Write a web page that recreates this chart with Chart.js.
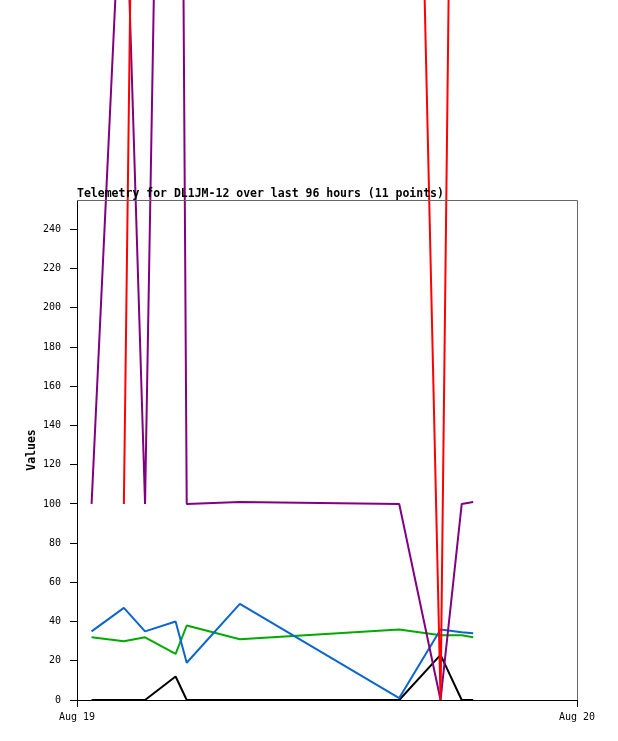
<!DOCTYPE html>
<html>
<head>
<meta charset="utf-8">
<script src="https://cdn.jsdelivr.net/npm/chart.js@4.4.1/dist/chart.umd.min.js"></script>
<style>
  html, body { margin: 0; padding: 0; background: #fff; }
  #wrap { width: 618px; height: 741px; }
</style>
</head>
<body>
<div id="wrap"><canvas id="telemetryChart" width="618" height="741"></canvas></div>
<script>
// sample times on Aug 19 (HH:MM)
const times = ['00:42', '02:15', '03:16', '04:44', '05:16', '07:49', '15:28', '17:27', '18:28', '19:01'];

// telemetry channels
const redValues = [null, 100, 960, 960, 960, 960, 930, 0, 940, 950];
const purpleValues = [100, 450, 100, 1000, 100, 101, 100, 0, 100, 101];
const blueValues = [35, 47, 35, 40, 19, 49, 1, 36, 34.5, 34];
const greenValues = [32, 30, 32, 23.5, 38, 31, 36, 33, 33, 32];
const blackValues = [0, 0, 0, 12, 0, 0, 0, 23, 0, 0];

// x axis: hours since Aug 19 00:00
const xTicks = [0, 24];
const xTickLabels = ['Aug 19', 'Aug 20'];
const yTicks = [0, 20, 40, 60, 80, 100, 120, 140, 160, 180, 200, 220, 240];
const yMax = 255;

const titleText = 'Telemetry for DL1JM-12 over last 96 hours (11 points)';
const yTitle = 'Values';

function toHours(t) {
    const p = t.split(':');
    return Number(p[0]) + Number(p[1]) / 60;
}

function series(values) {
    return values.map((v, i) => ({ x: toHours(times[i]), y: v }));
}

function lineSet(values, color) {
    return {
        data: series(values),
        borderColor: color,
        backgroundColor: color,
        borderWidth: 2,
        borderJoinStyle: 'bevel',
        pointRadius: 0,
        tension: 0,
        fill: false,
        clip: false,
        spanGaps: false
    };
}

// title, y title and the grey top/right frame
const decorations = {
    id: 'decorations',
    afterDraw(chart) {
        const c = chart.ctx;
        const a = chart.chartArea;
        c.save();
        c.strokeStyle = '#666';
        c.lineWidth = 1;
        c.beginPath();
        c.moveTo(a.left, a.top + 0.5);
        c.lineTo(a.right + 0.5, a.top + 0.5);
        c.lineTo(a.right + 0.5, a.bottom);
        c.stroke();

        c.fillStyle = '#000';
        c.font = 'bold 11.5px "DejaVu Sans Mono"';
        c.textAlign = 'left';
        c.textBaseline = 'alphabetic';
        c.fillText(titleText, a.left, 196.5);

        c.translate(35, (a.top + a.bottom) / 2);
        c.rotate(-Math.PI / 2);
        c.textAlign = 'center';
        c.fillText(yTitle, 0, 0);
        c.restore();
    }
};

document.addEventListener('DOMContentLoaded', function () {
    const ctx = document.getElementById('telemetryChart');
    new Chart(ctx, {
        type: 'line',
        data: {
            datasets: [
                lineSet(redValues, '#ff0000'),
                lineSet(purpleValues, '#800080'),
                lineSet(blueValues, '#0a66cc'),
                lineSet(greenValues, '#00aa00'),
                lineSet(blackValues, '#000000')
            ]
        },
        options: {
            responsive: false,
            animation: false,
            devicePixelRatio: 1,
            layout: { padding: { top: 200, right: 41, left: 0, bottom: 0 } },
            plugins: {
                legend: { display: false },
                tooltip: { enabled: false },
                title: { display: false }
            },
            scales: {
                x: {
                    type: 'linear',
                    min: xTicks[0],
                    max: xTicks[xTicks.length - 1],
                    afterBuildTicks: function (scale) {
                        scale.ticks = xTicks.map(v => ({ value: v }));
                    },
                    afterFit: function (scale) { scale.height = 41; },
                    border: { display: true, color: '#000', width: 1 },
                    grid: {
                        display: true,
                        drawOnChartArea: false,
                        drawTicks: true,
                        tickLength: 7,
                        color: '#000'
                    },
                    ticks: {
                        autoSkip: false,
                        maxRotation: 0,
                        padding: 4,
                        color: '#000',
                        font: { family: 'DejaVu Sans Mono', size: 10 },
                        callback: function (value) {
                            const i = xTicks.indexOf(value);
                            return i >= 0 ? xTickLabels[i] : '';
                        }
                    }
                },
                y: {
                    type: 'linear',
                    min: 0,
                    max: yMax,
                    afterBuildTicks: function (scale) {
                        scale.ticks = yTicks.map(v => ({ value: v }));
                    },
                    afterFit: function (scale) { scale.width = 77; },
                    border: { display: true, color: '#000', width: 1 },
                    grid: {
                        display: true,
                        drawOnChartArea: false,
                        drawTicks: true,
                        tickLength: 7,
                        color: '#000'
                    },
                    ticks: {
                        autoSkip: false,
                        padding: 9,
                        color: '#000',
                        font: { family: 'DejaVu Sans Mono', size: 10 },
                        callback: function (value) { return String(value); }
                    }
                }
            }
        },
        plugins: [decorations]
    });
});
</script>
</body>
</html>
